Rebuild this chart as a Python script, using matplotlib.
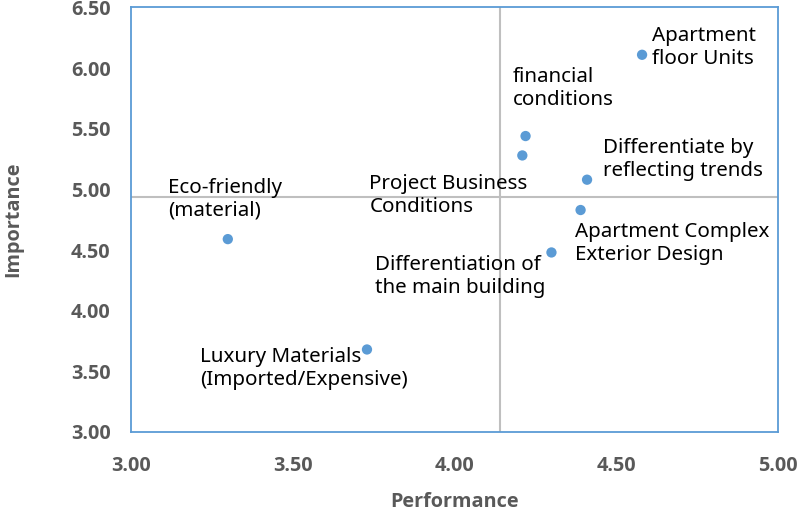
import matplotlib
matplotlib.use("Agg")
import matplotlib.pyplot as plt

plt.rcParams['font.family'] = ['Noto Sans', 'DejaVu Sans']

# Performance / importance per item
labels = [
    "Apartment\nfloor Units",
    "financial\nconditions",
    "Project Business\nConditions",
    "Differentiate by\nreflecting trends",
    "Apartment Complex\nExterior Design",
    "Differentiation of\nthe main building",
    "Eco-friendly\n(material)",
    "Luxury Materials\n(Imported/Expensive)",
]
performance = [4.58, 4.22, 4.21, 4.41, 4.39, 4.30, 3.30, 3.73]
importance = [6.11, 5.44, 5.28, 5.08, 4.83, 4.48, 4.59, 3.68]

perf_mean = 4.14
imp_mean = 4.94

# label offsets in pixels (dx, dy) from each point
offsets = [(10, 7), (-13, 48), (-153, -40), (16, 20), (-6, -33), (-176, -24), (-60, 40), (-167, -19)]

blue = "#5B9BD5"
grey = "#595959"
bold_font = ['Open Sans', 'DejaVu Sans']

fig = plt.figure(figsize=(8, 5.13), dpi=100)
ax = fig.add_axes([0.1634, 0.158, 0.8091, 0.8274])

ax.axvline(perf_mean, color="#BFBFBF", lw=1.5, zorder=1)
ax.axhline(imp_mean, color="#BFBFBF", lw=1.5, zorder=1)

ax.scatter(performance, importance, s=55, color=blue, zorder=3, edgecolors="none")

for lab, x, y, off in zip(labels, performance, importance, offsets):
    ax.annotate(lab, (x, y), xytext=off, textcoords="offset pixels",
                ha="left", va="center", fontsize=14.8, color="black",
                linespacing=1.2, zorder=4)

ax.set_xlim(3.0, 5.0)
ax.set_ylim(3.0, 6.5)
ax.set_xticks([3.0, 3.5, 4.0, 4.5, 5.0])
ax.set_yticks([3.0, 3.5, 4.0, 4.5, 5.0, 5.5, 6.0, 6.5])
ax.set_xticklabels(["3.00", "3.50", "4.00", "4.50", "5.00"])
ax.set_yticklabels(["3.00", "3.50", "4.00", "4.50", "5.00", "5.50", "6.00", "6.50"])
ax.tick_params(axis="x", length=0, pad=17, labelcolor=grey)
ax.tick_params(axis="y", length=0, pad=14.5, labelcolor=grey)
for t in ax.get_xticklabels() + ax.get_yticklabels():
    t.set_fontweight("bold")
    t.set_family(bold_font)
    t.set_fontsize(14.3)

for s in ax.spines.values():
    s.set_color(blue)
    s.set_linewidth(1.3)

ax.set_xlabel("Performance", fontsize=14.3, fontweight="bold", color=grey, labelpad=12, family=bold_font)
ax.set_ylabel("Importance", fontsize=14.3, fontweight="bold", color=grey, labelpad=34, family=bold_font)

fig.savefig("out.png", dpi=100)
